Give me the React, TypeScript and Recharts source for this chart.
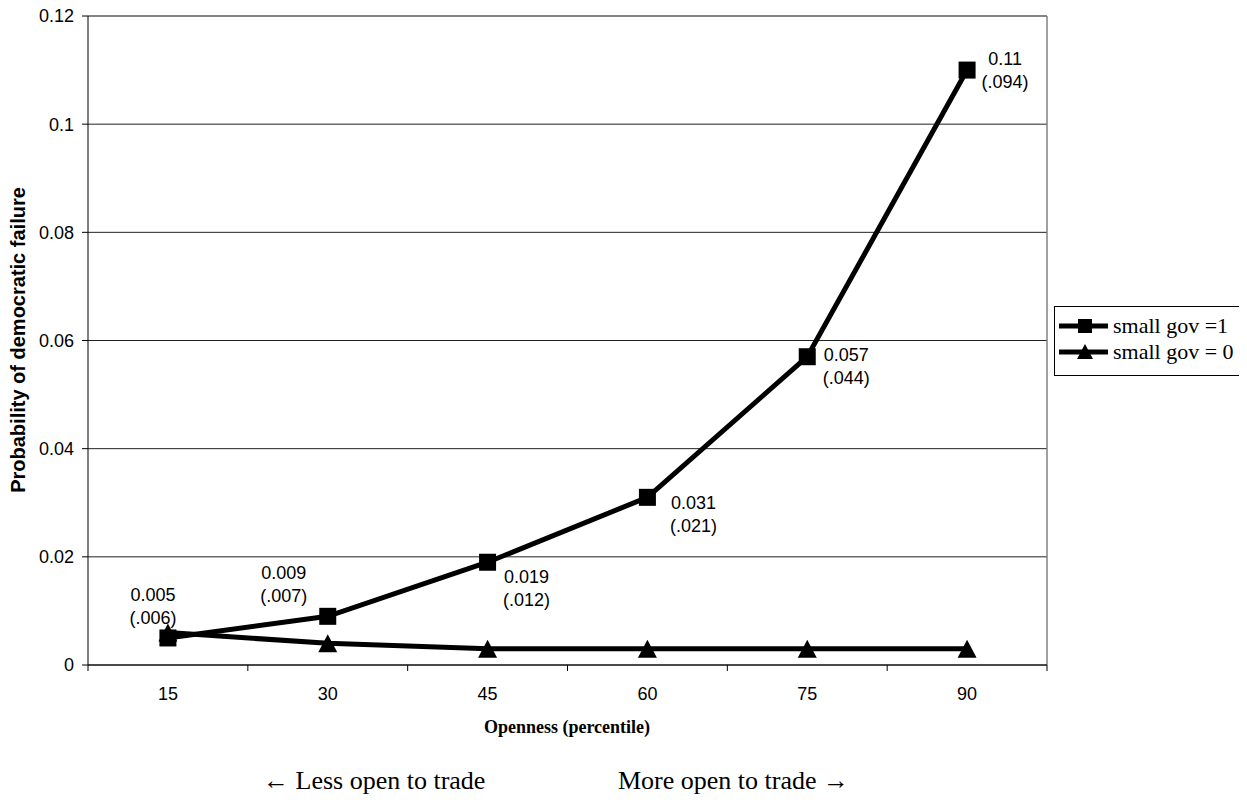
import React from 'react';
import { LineChart, Line, XAxis, YAxis, CartesianGrid, ReferenceLine, LabelList } from 'recharts';

// openness percentiles (x categories)
const categories = [15, 30, 45, 60, 75, 90];
// boundaries between categories, where the axis tick marks sit
const boundaries = [7.5, 22.5, 37.5, 52.5, 67.5, 82.5, 97.5];
const smallGov1 = [0.005, 0.009, 0.019, 0.031, 0.057, 0.11];
const smallGov0 = [0.006, 0.004, 0.003, 0.003, 0.003, 0.003];
// values in parentheses under each estimate
const seLabels = ['(.006)', '(.007)', '(.012)', '(.021)', '(.044)', '(.094)'];
const yTicks = [0, 0.02, 0.04, 0.06, 0.08, 0.1, 0.12];

// where each label sits relative to its point [dx, dy]
const labelOffsets = [
  [-15, -43],
  [-44, -44],
  [39, 14],
  [46, 5],
  [39, -2],
  [38, -12],
];

const data = categories.map((c, i) => ({
  x: c,
  gov1: smallGov1[i],
  gov0: smallGov0[i],
}));

const xTicks = [...boundaries, ...categories].sort((a, b) => a - b);

const SANS = '"Liberation Sans", Arial, sans-serif';
const SERIF = '"Liberation Serif", "Times New Roman", serif';

function SquareDot(props: any) {
  const { cx, cy, index } = props;
  if (cx == null || cy == null) return null;
  return <rect key={`s-${index}`} x={cx - 8.5} y={cy - 8.5} width={17} height={17} fill="#000" />;
}

function TriangleDot(props: any) {
  const { cx, cy, index } = props;
  if (cx == null || cy == null) return null;
  return (
    <polygon
      key={`t-${index}`}
      points={`${cx},${cy - 9} ${cx + 9.5},${cy + 9} ${cx - 9.5},${cy + 9}`}
      fill="#000"
    />
  );
}

function XTick(props: any) {
  const { x, y, payload } = props;
  const v = payload.value;
  if (categories.includes(v)) {
    return (
      <text x={x} y={y + 29} textAnchor="middle" fontFamily={SANS} fontSize={18} fill="#000">
        {v}
      </text>
    );
  }
  return <line x1={x} x2={x} y1={y - 6} y2={y} stroke="#000" strokeWidth={1} />;
}

function ValueLabel(props: any) {
  const { x, y, value, index } = props;
  const [dx, dy] = labelOffsets[index];
  const cx = x + dx;
  const base = y + dy + 6.5;
  return (
    <text textAnchor="middle" fontFamily={SANS} fontSize={18} fill="#000">
      <tspan x={cx} y={base}>{String(value)}</tspan>
      <tspan x={cx} y={base + 23}>{seLabels[index]}</tspan>
    </text>
  );
}

export default function App() {
  return (
    <div style={{ position: 'relative', width: 1247, height: 808, margin: -8 }}>
      <LineChart
        width={1247}
        height={808}
        data={data}
        margin={{ top: 16, right: 200, bottom: 113, left: 8 }}
      >
        <CartesianGrid vertical={false} stroke="#222" strokeWidth={1} />
        <XAxis
          dataKey="x"
          type="number"
          domain={[7.5, 97.5]}
          ticks={xTicks}
          interval={0}
          tick={<XTick />}
          tickLine={false}
          tickSize={6}
          tickMargin={0}
          height={30}
          axisLine={{ stroke: '#000', strokeWidth: 1 }}
          allowDataOverflow
        />
        <YAxis
          type="number"
          domain={[0, 0.12]}
          ticks={yTicks}
          interval={0}
          width={80}
          tickSize={6}
          tickMargin={8}
          tickFormatter={(v: number) => String(v)}
          tick={{ fill: '#000', fontSize: 18, fontFamily: SANS }}
          tickLine={{ stroke: '#000' }}
          axisLine={{ stroke: '#000', strokeWidth: 1 }}
          allowDataOverflow
        />
        <ReferenceLine y={0.12} stroke="#808080" strokeWidth={1.5} />
        <ReferenceLine x={97.5} stroke="#808080" strokeWidth={1.5} />
        <Line
          dataKey="gov0"
          stroke="#000"
          strokeWidth={5}
          dot={<TriangleDot />}
          activeDot={false}
          isAnimationActive={false}
        />
        <Line
          dataKey="gov1"
          stroke="#000"
          strokeWidth={5}
          dot={<SquareDot />}
          activeDot={false}
          isAnimationActive={false}
        >
          <LabelList dataKey="gov1" content={<ValueLabel />} />
        </Line>
      </LineChart>
      <svg
        width={1247}
        height={808}
        style={{ position: 'absolute', left: 0, top: 0, pointerEvents: 'none' }}
      >
        <text
          transform="translate(18,340) rotate(-90)"
          textAnchor="middle"
          dominantBaseline="central"
          fontFamily={SANS}
          fontWeight="bold"
          fontSize={20}
          fill="#000"
        >
          Probability of democratic failure
        </text>
        <text x={567} y={733} textAnchor="middle" fontFamily={SERIF} fontWeight="bold" fontSize={18} fill="#000">
          Openness (percentile)
        </text>
        <text x={263} y={789} fontFamily={SERIF} fontSize={26} fill="#000">
          ← Less open to trade
        </text>
        <text x={618} y={789} fontFamily={SERIF} fontSize={26} fill="#000">
          More open to trade →
        </text>
        <g>
          <rect x={1054.5} y={306.5} width={190} height={69} fill="#fff" stroke="#000" strokeWidth={1} />
          <line x1={1059} x2={1108} y1={326} y2={326} stroke="#000" strokeWidth={5} />
          <rect x={1078} y={319} width={14} height={14} fill="#000" />
          <text x={1113} y={333} fontFamily={SERIF} fontSize={22} fill="#000">
            small gov =1
          </text>
          <line x1={1059} x2={1108} y1={352} y2={352} stroke="#000" strokeWidth={5} />
          <polygon points="1085,344 1093,359 1077,359" fill="#000" />
          <text x={1113} y={359} fontFamily={SERIF} fontSize={22} fill="#000">
            small gov = 0
          </text>
        </g>
      </svg>
    </div>
  );
}
